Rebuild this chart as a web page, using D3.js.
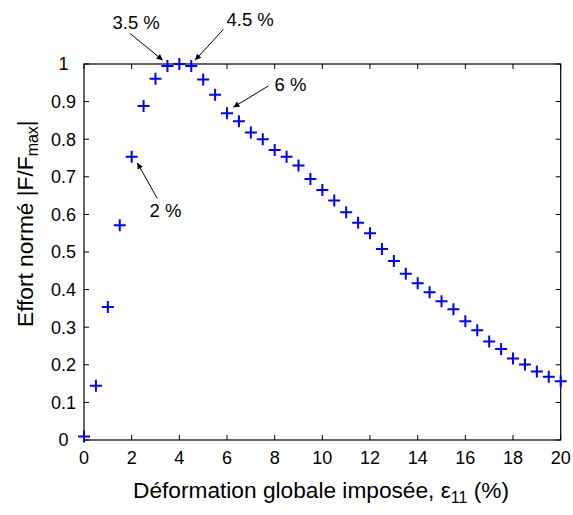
<!DOCTYPE html>
<html>
<head>
<meta charset="utf-8">
<script src="https://cdn.jsdelivr.net/npm/d3@7"></script>
<style>
  html, body { margin: 0; padding: 0; background: #fff; }
  svg { display: block; font-family: "Liberation Sans", Arial, sans-serif; }
</style>
</head>
<body>
<svg id="chart" width="573" height="515"></svg>
<script>
// ---- data ----
const strain = [0,0.5,1,1.5,2,2.5,3,3.5,4,4.5,5,5.5,6,6.5,7,7.5,8,8.5,9,9.5,10,
  10.5,11,11.5,12,12.5,13,13.5,14,14.5,15,15.5,16,16.5,17,17.5,18,18.5,19,19.5,20];
const effort = [0.009,0.144,0.354,0.571,0.753,0.888,0.961,0.995,1.0,0.995,0.959,
  0.918,0.869,0.848,0.818,0.800,0.771,0.753,0.730,0.694,0.665,
  0.637,0.606,0.578,0.550,0.508,0.476,0.442,0.417,0.393,0.369,
  0.348,0.316,0.292,0.262,0.242,0.217,0.201,0.182,0.168,0.156];
const xTicks = [0,2,4,6,8,10,12,14,16,18,20];
const yTicks = [0,0.1,0.2,0.3,0.4,0.5,0.6,0.7,0.8,0.9,1];
const yTickLabels = ["0","0.1","0.2","0.3","0.4","0.5","0.6","0.7","0.8","0.9","1"];
const annotStrain = [3.5, 4.5, 6, 2];
const annotLabel = ["3.5 %", "4.5 %", "6 %", "2 %"];

// ---- layout ----
const svg = d3.select("#chart");
const x = d3.scaleLinear().domain([0, 20]).range([84, 560.7]);
const y = d3.scaleLinear().domain([0, 1]).range([440, 64]);

// box
svg.append("rect")
  .attr("x", x(0)).attr("y", y(1))
  .attr("width", x(20) - x(0)).attr("height", y(0) - y(1))
  .attr("fill", "none").attr("stroke", "#000").attr("stroke-width", 1.2);

const tl = 5;
const gx = svg.append("g").attr("stroke", "#000").attr("stroke-width", 1);
xTicks.forEach(t => {
  gx.append("line").attr("x1", x(t)).attr("x2", x(t)).attr("y1", y(0)).attr("y2", y(0) - tl);
  gx.append("line").attr("x1", x(t)).attr("x2", x(t)).attr("y1", y(1)).attr("y2", y(1) + tl);
});
yTicks.forEach(t => {
  gx.append("line").attr("x1", x(0)).attr("x2", x(0) + tl).attr("y1", y(t)).attr("y2", y(t));
  gx.append("line").attr("x1", x(20)).attr("x2", x(20) - tl).attr("y1", y(t)).attr("y2", y(t));
});

// tick labels
svg.append("g").selectAll("text").data(xTicks).join("text")
  .attr("x", d => x(d)).attr("y", 463.5)
  .attr("text-anchor", "middle").attr("font-size", 18).attr("fill", "#000")
  .text(d => d);
svg.append("g").selectAll("text").data(yTicks).join("text")
  .attr("x", 63.5).attr("y", d => y(d)).attr("dy", "0.36em")
  .attr("text-anchor", "middle").attr("font-size", 18).attr("fill", "#000")
  .text((d, i) => yTickLabels[i]);

// axis labels
const xl = svg.append("text").attr("x", 133).attr("y", 497.5)
  .attr("font-size", 22.7).attr("fill", "#000");
xl.append("tspan").text("Déformation globale imposée, ε");
xl.append("tspan").attr("font-size", 16).attr("dy", 5).text("11");
xl.append("tspan").attr("dy", -5).text(" (%)");

const yl = svg.append("text")
  .attr("transform", "translate(33,327) rotate(-90)")
  .attr("font-size", 22.7).attr("fill", "#000");
yl.append("tspan").text("Effort normé |F/F");
yl.append("tspan").attr("font-size", 16).attr("dy", 5).text("max");
yl.append("tspan").attr("dy", -5).text("|");

// markers
svg.append("g").selectAll("path").data(strain).join("path")
  .attr("d", (d, i) => `M${x(d) - 6},${y(effort[i])}H${x(d) + 6}M${x(d)},${y(effort[i]) - 6}V${y(effort[i]) + 6}`)
  .attr("stroke", "#0000ff").attr("stroke-width", 2).attr("fill", "none");

// annotations
const defs = svg.append("defs");
defs.append("marker").attr("id", "ah").attr("viewBox", "0 0 10 10")
  .attr("refX", 10).attr("refY", 5).attr("markerWidth", 8).attr("markerHeight", 6)
  .attr("markerUnits", "userSpaceOnUse").attr("orient", "auto")
  .append("path").attr("d", "M0,0L10,5L0,10Z").attr("fill", "#000");

const headOff = [[-4.7, -5.7], [3.8, -5.7], [6.3, -6], [5.6, 6]];
const tailOff = [[-37.4, -32.4], [32.1, -36.4], [41.3, -27.3], [25.6, 41.6]];
const textPos = [[112.5, 29.3], [226.5, 26], [274.5, 90.7], [149.5, 216.7]];
annotStrain.forEach((s, i) => {
  const idx = strain.indexOf(s);
  const px = x(s), py = y(effort[idx]);
  svg.append("line")
    .attr("x1", px + tailOff[i][0]).attr("y1", py + tailOff[i][1])
    .attr("x2", px + headOff[i][0]).attr("y2", py + headOff[i][1])
    .attr("stroke", "#000").attr("stroke-width", 1)
    .attr("marker-end", "url(#ah)");
  svg.append("text").attr("x", textPos[i][0]).attr("y", textPos[i][1])
    .attr("font-size", 18.5).attr("fill", "#000").text(annotLabel[i]);
});
</script>
</body>
</html>
